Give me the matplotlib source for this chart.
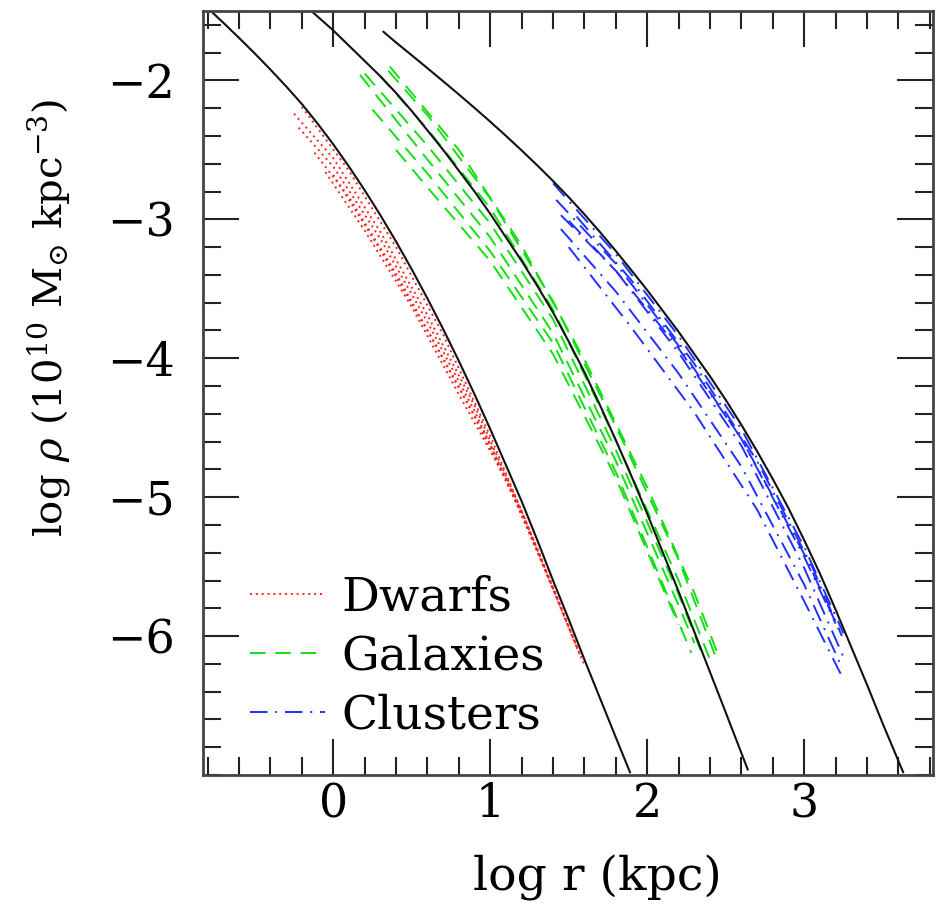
import matplotlib
matplotlib.use("Agg")
import matplotlib.pyplot as plt
from matplotlib.ticker import MultipleLocator

plt.rcParams['font.family'] = ['DejaVu Serif']
plt.rcParams['mathtext.fontset'] = 'dejavuserif'

# black reference profiles
fit_dwarf_x = [-0.78, -0.7, -0.6, -0.5, -0.4, -0.3, -0.2, -0.1, 0.0, 0.1, 0.2, 0.3, 0.4, 0.5,
               0.6, 0.7, 0.8, 0.9, 1.0, 1.1, 1.2, 1.3, 1.4, 1.5, 1.6, 1.7, 1.8, 1.89]
fit_dwarf_y = [-1.50, -1.585, -1.694, -1.806, -1.922, -2.043, -2.17, -2.31, -2.46, -2.62, -2.79, -2.97,
               -3.16, -3.36, -3.57, -3.79, -4.02, -4.26, -4.51, -4.77, -5.03, -5.31, -5.60, -5.88,
               -6.17, -6.45, -6.73, -6.98]

fit_gal_x = [-0.13, -0.1, 0.0, 0.1, 0.2, 0.3, 0.4, 0.5, 0.6, 0.7, 0.8, 0.9, 1.0, 1.1, 1.2, 1.3,
             1.4, 1.5, 1.6, 1.7, 1.8, 1.9, 2.0, 2.1, 2.2, 2.3, 2.4, 2.5, 2.64]
fit_gal_y = [-1.51, -1.54, -1.64, -1.75, -1.86, -1.97, -2.09, -2.22, -2.36, -2.50, -2.65, -2.80,
             -2.96, -3.13, -3.30, -3.48, -3.67, -3.88, -4.10, -4.34, -4.59, -4.85, -5.12, -5.40,
             -5.68, -5.97, -6.26, -6.55, -6.96]

fit_clu_x = [0.32, 0.4, 0.5, 0.6, 0.7, 0.8, 0.9, 1.0, 1.1, 1.2, 1.3, 1.4, 1.5, 1.6, 1.7, 1.8,
             1.9, 2.0, 2.1, 2.2, 2.3, 2.4, 2.5, 2.6, 2.7, 2.8, 2.9, 3.0, 3.1, 3.2, 3.3, 3.4,
             3.5, 3.63]
fit_clu_y = [-1.65, -1.727, -1.819, -1.912, -2.006, -2.101, -2.198, -2.297, -2.399, -2.504, -2.612,
             -2.724, -2.841, -2.964, -3.093, -3.228, -3.368, -3.51, -3.66, -3.81, -3.97, -4.13,
             -4.30, -4.48, -4.67, -4.87, -5.08, -5.31, -5.55, -5.81, -6.08, -6.35, -6.63, -6.98]

# simulated halo profiles
dwarfs = [
    ([-0.20, 0.10, 0.40, 0.70, 1.00, 1.30, 1.60], [-2.19, -2.65, -3.20, -3.83, -4.56, -5.37, -6.21]),
    ([-0.25, 0.00, 0.30, 0.60, 0.90, 1.20, 1.58], [-2.24, -2.56, -3.09, -3.69, -4.34, -5.10, -6.16]),
    ([-0.22, 0.00, 0.30, 0.60, 0.90, 1.20, 1.55], [-2.34, -2.62, -3.14, -3.74, -4.38, -5.11, -6.08]),
    ([-0.12, 0.10, 0.40, 0.70, 1.00, 1.30, 1.55], [-2.52, -2.84, -3.39, -4.00, -4.62, -5.38, -6.07]),
    ([-0.05, 0.20, 0.50, 0.80, 1.10, 1.40], [-2.66, -3.08, -3.63, -4.26, -4.87, -5.66]),
    ([0.00, 0.30, 0.60, 0.90, 1.20, 1.45], [-2.68, -3.22, -3.80, -4.42, -5.12, -5.79]),
]

galaxies = [
    ([0.35, 0.60, 1.00, 1.40, 1.80, 2.20, 2.45], [-1.93, -2.25, -2.85, -3.59, -4.49, -5.45, -6.19]),
    ([0.30, 0.60, 1.00, 1.40, 1.80, 2.20, 2.40], [-1.97, -2.35, -2.92, -3.65, -4.59, -5.60, -6.17]),
    ([0.20, 0.60, 1.00, 1.40, 1.80, 2.20, 2.35], [-1.95, -2.47, -3.03, -3.72, -4.66, -5.70, -6.13]),
    ([0.17, 0.60, 1.00, 1.40, 1.80, 2.20, 2.30], [-1.96, -2.57, -3.13, -3.82, -4.74, -5.78, -6.05]),
    ([0.25, 0.60, 1.00, 1.40, 1.80, 2.20, 2.28], [-2.21, -2.67, -3.23, -3.89, -4.82, -5.90, -6.12]),
    ([0.40, 0.60, 1.00, 1.40, 1.80, 2.20], [-2.50, -2.77, -3.30, -3.97, -4.86, -5.92]),
    ([0.36, 0.80, 1.20, 1.60, 2.00, 2.30, 2.45], [-1.90, -2.50, -3.19, -4.01, -4.93, -5.69, -6.13]),
]

clusters = [
    ([1.40, 1.80, 2.20, 2.60, 3.00, 3.25], [-2.74, -3.25, -3.84, -4.51, -5.36, -5.98]),
    ([1.42, 1.80, 2.20, 2.60, 3.00, 3.22], [-2.86, -3.32, -3.91, -4.58, -5.41, -5.95]),
    ([1.45, 1.80, 2.20, 2.60, 3.00, 3.20], [-2.97, -3.37, -3.93, -4.58, -5.43, -5.91]),
    ([1.50, 1.80, 2.20, 2.60, 3.00, 3.25], [-3.01, -3.37, -3.96, -4.63, -5.51, -6.15]),
    ([1.55, 1.90, 2.30, 2.70, 3.05, 3.24], [-2.98, -3.44, -4.04, -4.74, -5.50, -6.00]),
    ([1.45, 1.80, 2.20, 2.60, 3.00, 3.23], [-3.07, -3.52, -4.11, -4.78, -5.63, -6.20]),
    ([1.50, 1.90, 2.30, 2.70, 3.00, 3.24], [-3.20, -3.78, -4.39, -5.09, -5.75, -6.29]),
]

fig = plt.figure(figsize=(9.44, 9.14), dpi=100)
ax = fig.add_axes([0.2150, 0.1521, 0.7733, 0.8359])

dot_style = (0, (1, 2))
dash_style = (0, (8, 5))
dashdot_style = (0, (9, 4, 1, 4))

for i, (x, y) in enumerate(dwarfs):
    ax.plot(x, y, color='#ff2020', lw=1.4, ls=dot_style, label='Dwarfs' if i == 0 else None)
for i, (x, y) in enumerate(galaxies):
    ax.plot(x, y, color='#10e010', lw=1.4, ls=dash_style, label='Galaxies' if i == 0 else None)
for i, (x, y) in enumerate(clusters):
    ax.plot(x, y, color='#2030ff', lw=1.4, ls=dashdot_style, label='Clusters' if i == 0 else None)

for x, y in [(fit_dwarf_x, fit_dwarf_y), (fit_gal_x, fit_gal_y), (fit_clu_x, fit_clu_y)]:
    ax.plot(x, y, color='#111111', lw=1.5)

ax.set_xlim(-0.83, 3.82)
ax.set_ylim(-7.0, -1.5)

ax.xaxis.set_major_locator(MultipleLocator(1))
ax.xaxis.set_minor_locator(MultipleLocator(0.2))
ax.yaxis.set_major_locator(MultipleLocator(1))
ax.yaxis.set_minor_locator(MultipleLocator(0.2))
ax.set_yticks([-2, -3, -4, -5, -6])

ax.tick_params(which='both', direction='in', top=True, right=True, color='#222222', width=1.5)
ax.tick_params(which='major', length=26)
ax.tick_params(which='minor', length=13)
ax.tick_params(axis='x', which='major', pad=5, labelsize=33)
ax.tick_params(axis='y', which='major', pad=20, labelsize=33)

for sp in ax.spines.values():
    sp.set_color('#444444')
    sp.set_linewidth(2)

ax.set_xlabel('log r (kpc)', fontsize=34)
ax.set_ylabel(r'log $\rho$ (10$^{10}$ M$_{\odot}$ kpc$^{-3}$)', fontsize=29)
ax.xaxis.set_label_coords(0.54, -0.105)
ax.yaxis.set_label_coords(-0.18, 0.598)

leg = ax.legend(loc='upper left', bbox_to_anchor=(0.064, 0.262), frameon=False,
                fontsize=34, handlelength=1.6, handletextpad=0.35, labelspacing=0.3,
                borderpad=0, borderaxespad=0)

fig.savefig('out.png', dpi=100)
